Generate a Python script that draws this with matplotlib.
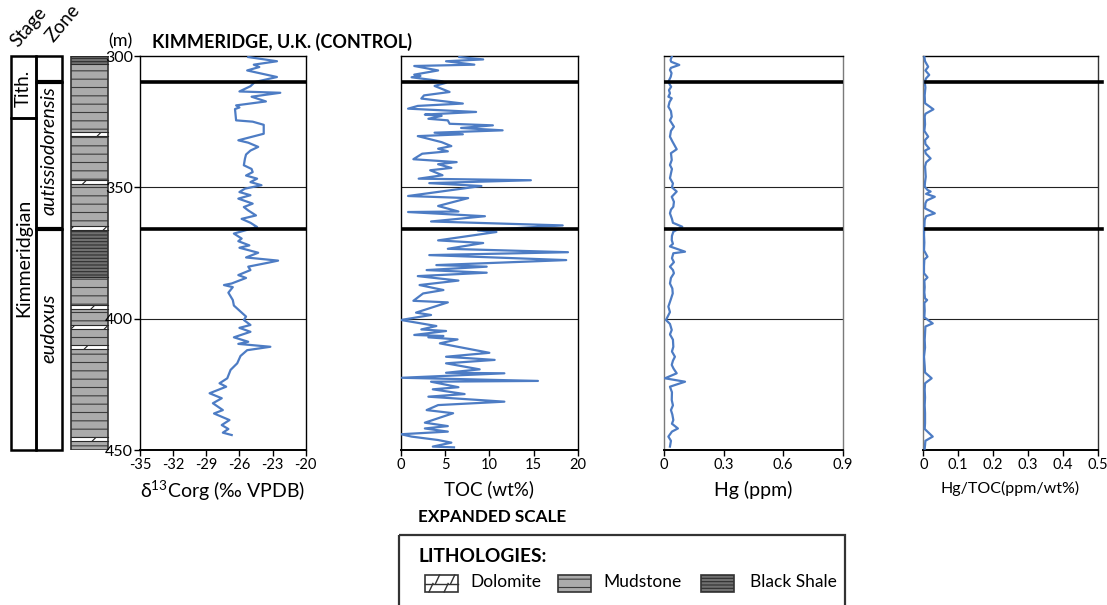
import matplotlib
matplotlib.use('Agg')
import matplotlib.pyplot as plt
from matplotlib.patches import Rectangle
from matplotlib.lines import Line2D

# ---------------- data ----------------
d13c_depth = [300.4, 302.0, 303.3, 304.2, 305.5, 308.0, 309.9, 311.5, 313.5, 314.0, 315.5, 317.3,
              318.8, 319.6, 320.2, 324.5, 325.0, 326.2, 329.6, 332.1, 333.0, 334.6, 336.0, 337.5,
              339.1, 341.6, 343.0, 344.2, 345.5, 346.7, 348.0, 349.2, 350.5, 351.8, 353.0, 354.3,
              356.2, 357.5, 358.8, 360.7, 362.0, 363.5, 365.1, 367.6, 369.5, 370.5, 372.1, 373.0,
              374.9, 376.7, 377.9, 378.7, 380.2, 381.5, 383.4, 384.5, 386.6, 387.2, 388.0, 390.1,
              392.9, 395.0, 397.3, 399.2, 400.5, 402.4, 403.5, 405.0, 407.1, 408.8, 409.6, 410.7,
              412.0, 414.2, 417.0, 419.5, 422.7, 424.6, 425.9, 428.4, 430.3, 432.2, 434.8, 436.1,
              438.6, 440.5, 442.0, 443.4, 444.3]
d13c_value = [-25.2, -22.6, -24.7, -24.2, -25.3, -22.6, -24.6, -25.0, -26.0, -22.3, -24.9, -23.6,
              -26.3, -26.0, -26.4, -26.3, -24.8, -23.8, -23.8, -26.1, -25.2, -24.3, -25.0, -25.4,
              -25.5, -25.6, -24.9, -24.8, -25.4, -24.4, -25.0, -24.0, -25.5, -26.0, -25.0, -26.1,
              -24.8, -25.6, -25.2, -24.5, -25.8, -25.0, -24.4, -26.5, -25.8, -26.1, -25.1, -26.0,
              -24.3, -25.4, -22.5, -23.4, -25.2, -25.0, -26.1, -25.4, -26.7, -27.4, -26.6, -27.0,
              -26.6, -26.5, -25.9, -25.4, -25.6, -25.0, -26.0, -25.0, -26.5, -25.2, -26.1, -23.2,
              -25.3, -25.9, -26.2, -26.8, -27.1, -27.8, -27.2, -28.7, -27.6, -28.4, -27.5, -28.3,
              -26.9, -27.6, -27.0, -27.5, -26.7]

toc_depth = [300.4, 301.3, 302.0, 303.3, 303.8, 305.5, 307.1, 307.6, 308.1, 309.6, 310.2, 311.4,
             313.7, 315.0, 316.2, 318.1, 319.0, 320.05, 321.3, 322.3, 322.8, 323.9, 324.5, 325.8,
             326.4, 327.4, 328.3, 329.2, 329.8, 330.5, 332.8, 334.3, 335.3, 336.3, 337.2, 339.3,
             340.4, 341.2, 342.6, 343.5, 345.4, 346.7, 347.3, 348.4, 349.5, 353.3, 354.1, 357.1,
             359.2, 359.4, 361.0, 363.0, 364.5, 366.4, 367.0, 370.2, 371.2, 373.4, 374.7, 375.8,
             377.7, 379.6, 380.2, 381.5, 382.5, 383.8, 385.5, 387.2, 389.1, 390.4, 393.2, 393.8,
             397.7, 398.6, 400.5, 402.8, 404.1, 404.7, 406.2, 406.6, 407.1, 407.9, 409.4, 413.0,
             414.5, 415.7, 417.0, 419.3, 420.6, 420.8, 422.5, 423.7, 424.0, 426.1, 426.9, 428.7,
             429.7, 431.6, 432.9, 434.8, 436.0, 439.6, 440.9, 441.8, 443.0, 444.0, 444.9, 446.2,
             447.2, 448.7, 449.0]
toc_value = [6.6, 9.3, 5.1, 8.3, 1.5, 4.2, 1.5, 2.2, 1.2, 4.6, 5.1, 3.8,
             5.5, 2.6, 2.3, 7.0, 1.9, 0.8, 8.5, 2.7, 4.6, 3.1, 5.3, 5.5,
             10.4, 6.8, 11.5, 3.8, 7.0, 1.9, 4.6, 5.7, 4.2, 5.3, 2.4, 1.4,
             6.3, 4.2, 5.7, 3.3, 4.7, 2.0, 14.7, 3.2, 9.1, 0.8, 7.6, 4.2,
             6.5, 0.8, 9.5, 3.4, 18.3, 8.7, 10.8, 4.2, 9.3, 5.3, 18.9, 3.2,
             18.7, 4.0, 9.7, 2.9, 9.7, 1.9, 6.5, 2.1, 4.8, 2.5, 1.4, 5.3,
             1.7, 3.4, 0.0, 4.0, 2.3, 5.1, 1.5, 4.8, 3.1, 6.4, 4.4, 10.0,
             5.1, 10.6, 5.1, 8.9, 5.1, 11.7, 0.1, 15.5, 3.4, 6.5, 3.6, 7.2,
             3.1, 11.7, 4.2, 2.9, 5.9, 2.7, 5.3, 2.7, 5.3, 0.0, 1.2, 4.2,
             5.7, 3.6, 6.0]

hg_depth = [300.3, 301.5, 302.2, 303.4, 304.5, 305.3, 306.5, 307.9, 309.8, 311.0, 311.7, 313.0,
            314.2, 315.5, 316.1, 317.5, 319.3, 321.0, 323.1, 324.5, 326.9, 328.5, 330.7, 332.5,
            335.5, 337.0, 339.6, 341.5, 343.0, 344.7, 346.5, 348.5, 350.0, 351.6, 353.6, 355.5,
            357.4, 358.5, 359.9, 362.0, 363.5, 365.0, 366.9, 368.5, 370.1, 371.5, 372.5, 374.5,
            375.1, 377.0, 378.5, 380.2, 381.5, 382.7, 384.5, 386.6, 388.5, 390.4, 392.5, 395.4,
            397.5, 400.5, 402.0, 404.3, 406.0, 408.0, 410.7, 412.5, 414.5, 416.0, 417.6, 419.0,
            420.8, 422.7, 424.0, 425.9, 428.0, 431.0, 433.0, 434.8, 436.5, 438.6, 440.0, 441.8,
            443.0, 444.9, 446.5, 448.7]
hg_value = [0.039, 0.033, 0.036, 0.077, 0.035, 0.030, 0.038, 0.034, 0.022, 0.030, 0.036, 0.025,
            0.030, 0.022, 0.039, 0.028, 0.022, 0.035, 0.039, 0.030, 0.050, 0.035, 0.030, 0.042,
            0.064, 0.035, 0.039, 0.030, 0.040, 0.035, 0.030, 0.045, 0.040, 0.064, 0.039, 0.050,
            0.047, 0.035, 0.030, 0.040, 0.045, 0.092, 0.047, 0.040, 0.039, 0.045, 0.030, 0.106,
            0.047, 0.040, 0.050, 0.030, 0.045, 0.050, 0.035, 0.030, 0.042, 0.044, 0.035, 0.022,
            0.030, 0.010, 0.030, 0.039, 0.030, 0.045, 0.047, 0.040, 0.055, 0.045, 0.039, 0.048,
            0.064, 0.005, 0.106, 0.030, 0.040, 0.039, 0.045, 0.035, 0.042, 0.047, 0.040, 0.070,
            0.040, 0.022, 0.035, 0.030]

hgtoc_depth = [300.3, 302.0, 304.1, 305.5, 307.2, 308.5, 309.8, 312.0, 315.0, 318.0, 320.3, 322.0,
               323.1, 326.0, 328.5, 330.7, 332.0, 333.5, 335.2, 336.0, 337.1, 339.0, 340.5, 342.1,
               344.0, 346.0, 348.0, 349.7, 351.0, 351.6, 352.5, 353.6, 355.0, 356.1, 358.0, 359.9,
               361.0, 362.4, 365.0, 368.0, 371.0, 374.0, 376.4, 377.5, 380.0, 382.7, 384.3, 385.5,
               388.0, 390.0, 392.3, 392.9, 394.0, 397.0, 399.5, 401.8, 403.0, 405.6, 408.0, 411.0,
               414.5, 418.0, 420.5, 422.7, 424.6, 427.0, 430.0, 433.0, 436.0, 439.8, 442.0, 444.9,
               446.5, 448.1, 449.5]
hgtoc_value = [0.003, 0.005, 0.014, 0.006, 0.017, 0.008, 0.004, 0.006, 0.004, 0.005, 0.029, 0.006,
               0.004, 0.005, 0.003, 0.014, 0.005, 0.006, 0.017, 0.005, 0.007, 0.021, 0.008, 0.005,
               0.006, 0.007, 0.005, 0.004, 0.012, 0.021, 0.008, 0.033, 0.010, 0.006, 0.005, 0.033,
               0.008, 0.004, 0.003, 0.002, 0.003, 0.002, 0.012, 0.003, 0.002, 0.002, 0.012, 0.003,
               0.004, 0.003, 0.005, 0.011, 0.003, 0.004, 0.003, 0.027, 0.006, 0.005, 0.004, 0.005,
               0.002, 0.004, 0.005, 0.024, 0.005, 0.004, 0.005, 0.004, 0.005, 0.005, 0.004, 0.027,
               0.006, 0.005, 0.004]

depth_ticks = [300, 350, 400, 450]
d13c_ticks = [-35, -32, -29, -26, -23, -20]
toc_ticks = [0, 5, 10, 15, 20]
hg_ticks = [0, 0.3, 0.6, 0.9]
hg_ticklabels = ['0', '0.3', '0.6', '0.9']
hgtoc_ticks = [0, 0.1, 0.2, 0.3, 0.4, 0.5]
hgtoc_ticklabels = ['0', '0.1', '0.2', '0.3', '0.4', '0.5']

zone_boundaries = [310, 366]      # thick lines
grid_depths = [350, 400]          # thin lines

stage_names = ['Tith.', 'Kimmeridgian']
stage_bounds = [300, 323.5, 450]
zone_names = ['', 'autissiodorensis', 'eudoxus']
zone_bounds = [300, 310, 366, 450]

litho_top = [300, 303, 329.0, 330.5, 347.2, 348.7, 364.7, 366.2, 384.0, 394.9, 396.4,
             402.4, 403.9, 409.9, 411.4, 445.0, 446.5]
litho_type = ['Black Shale', 'Mudstone', 'Dolomite', 'Mudstone', 'Dolomite', 'Mudstone',
              'Dolomite', 'Black Shale', 'Mudstone', 'Dolomite', 'Mudstone', 'Dolomite',
              'Mudstone', 'Dolomite', 'Mudstone', 'Dolomite', 'Mudstone']
litho_base = litho_top[1:] + [450]
legend_names = ['Dolomite', 'Mudstone', 'Black Shale']

# ---------------- style ----------------
plt.rcParams['font.family'] = ['Lato', 'DejaVu Sans']
plt.rcParams['mathtext.default'] = 'regular'
plt.rcParams['hatch.linewidth'] = 0.8
plt.rcParams['axes.unicode_minus'] = False

LINE = '#4d7cc4'
LSTYLE = {'Mudstone': dict(facecolor='#ababab', hatch='--', edgecolor='#3c3c3c'),
          'Black Shale': dict(facecolor='#707070', hatch='-----', edgecolor='#2e2e2e'),
          'Dolomite': dict(facecolor='white', hatch='/', edgecolor='#222222')}

W, H = 1107, 605
fig = plt.figure(figsize=(W / 100, H / 100), dpi=100)

def px_axes(x0, y0, x1, y1, **kw):
    return fig.add_axes([x0 / W, 1 - y1 / H, (x1 - x0) / W, (y1 - y0) / H], **kw)

TOP, BOT = 56, 450

# overlay axes in pixel coordinates
ov = px_axes(0, 0, W, H, zorder=-5)
ov.set_xlim(0, W); ov.set_ylim(H, 0); ov.axis('off')

ov.text(152, 42, 'KIMMERIDGE, U.K. (CONTROL)', fontsize=13, fontweight='bold', va='center', ha='left')
ov.text(418, 517, 'EXPANDED SCALE', fontsize=12.3, fontweight='bold', va='center', ha='left')
ov.text(120, 41, '(m)', fontsize=13, va='center', ha='center')
ov.text(29, 27, 'Stage', fontsize=13.5, rotation=50, va='center', ha='center')
ov.text(63, 23, 'Zone', fontsize=13.5, rotation=50, va='center', ha='center')

# legend box
ov.add_patch(Rectangle((399, 535), 446, 90, fill=False, edgecolor='#333333', lw=1.6, clip_on=False))
ov.text(418, 556, 'LITHOLOGIES:', fontsize=13.8, fontweight='bold', va='center', ha='left')
sym_x = [425, 558, 701]
txt_x = [470, 603, 750]
for name, sx, tx in zip(legend_names, sym_x, txt_x):
    st = LSTYLE[name]
    if name == 'Dolomite':
        ov.add_patch(Rectangle((sx, 575), 33, 17, facecolor='white', edgecolor='none'))
        ov.plot([sx, sx + 33], [583.5, 583.5], color='#333333', lw=1)
        for fx, y0 in [(0.32, 583.5), (0.78, 583.5), (0.12, 592), (0.58, 592)]:
            ov.plot([sx + 33 * fx, sx + 33 * fx + 4], [y0, y0 - 8.5], color='#333333', lw=1)
    else:
        ov.add_patch(Rectangle((sx, 575), 33, 17, facecolor=st['facecolor'], hatch=st['hatch'],
                               edgecolor=st['edgecolor'], lw=0))
    ov.add_patch(Rectangle((sx, 575), 33, 17, fill=False, edgecolor='#333333', lw=1.2))
    ov.text(tx, 582, name, fontsize=12.5, va='center', ha='left')

# ---------------- stratigraphic column ----------------
axs = px_axes(0, TOP, 140, BOT)
axs.set_xlim(0, 140); axs.set_ylim(450, 300); axs.axis('off')
SX0, SX1, ZX1 = 10.7, 35.7, 62.3
for i, name in enumerate(stage_names):
    axs.add_patch(Rectangle((SX0, stage_bounds[i]), SX1 - SX0, stage_bounds[i + 1] - stage_bounds[i],
                            fill=False, edgecolor='black', lw=1.8, clip_on=False))
for i, name in enumerate(zone_names):
    axs.add_patch(Rectangle((SX1, zone_bounds[i]), ZX1 - SX1, zone_bounds[i + 1] - zone_bounds[i],
                            fill=False, edgecolor='black', lw=1.8, clip_on=False))
for zb in zone_boundaries:
    axs.plot([SX1, ZX1], [zb, zb], color='black', lw=3, solid_capstyle='butt')
axs.text((SX0 + SX1) / 2 + 0.5, 312.5, stage_names[0], rotation=90, fontsize=13.5, ha='center', va='center')
axs.text((SX0 + SX1) / 2 + 0.5, 377, stage_names[1], rotation=90, fontsize=14, ha='center', va='center')
axs.text((SX1 + ZX1) / 2, 336, zone_names[1], rotation=90, fontsize=14, style='italic',
         ha='center', va='center')
axs.text((SX1 + ZX1) / 2, 403.5, zone_names[2], rotation=90, fontsize=14.5, style='italic',
         ha='center', va='center')

LX0, LX1 = 71, 108.3
for t, b, ty in zip(litho_top, litho_base, litho_type):
    st = LSTYLE[ty]
    axs.add_patch(Rectangle((LX0, t), LX1 - LX0, b - t, facecolor=st['facecolor'], hatch=st['hatch'],
                            edgecolor=st['edgecolor'], lw=0))
    axs.plot([LX0, LX1], [t, t], color='#2a2a2a', lw=0.8)
axs.add_patch(Rectangle((LX0, 300), LX1 - LX0, 150, fill=False, edgecolor='#333333', lw=1.2))

# ---------------- data panels ----------------
panels = [
    (140, 305.7, d13c_depth, d13c_value, (-35, -20), d13c_ticks, [str(t) for t in d13c_ticks],
     'δ$^{13}$Corg (‰ VPDB)', 14),
    (401, 577.7, toc_depth, toc_value, (0, 20), toc_ticks, [str(t) for t in toc_ticks],
     'TOC (wt%)', 13.5),
    (664, 842.7, hg_depth, hg_value, (0, 0.9), hg_ticks, hg_ticklabels, 'Hg (ppm)', 14),
    (923.3, 1097.7, hgtoc_depth, hgtoc_value, (0, 0.5), hgtoc_ticks, hgtoc_ticklabels,
     'Hg/TOC(ppm/wt%)', 11.5),
]
for k, (x0, x1, dep, val, xl, ticks, tl, lab, lfs) in enumerate(panels):
    ax = px_axes(x0, TOP, x1, BOT)
    ax.plot(val, dep, color=LINE, lw=1.6, zorder=3)
    ax.set_xlim(*xl); ax.set_ylim(450, 300)
    ax.set_xticks(ticks); ax.set_xticklabels(tl, fontsize=10.5)
    ax.tick_params(axis='x', direction='out', length=4, width=1, pad=2)
    for g in grid_depths:
        ax.axhline(g, color='#222222', lw=0.8, zorder=2)
    for zb in zone_boundaries:
        if k == 3:
            ax.add_line(Line2D([0.017, 1.025], [zb, zb], transform=ax.get_yaxis_transform(),
                               color='black', lw=2.6, zorder=4, clip_on=False))
        else:
            ax.axhline(zb, color='black', lw=2.6, zorder=4)
    if k == 0:
        ax.set_yticks(depth_ticks)
        ax.set_yticklabels([str(t) for t in depth_ticks], fontsize=11.5)
        ax.tick_params(axis='y', direction='out', length=4, width=1, pad=1)
    else:
        ax.set_yticks([])
    for sp in ax.spines.values():
        sp.set_linewidth(1.0)
        sp.set_color('black')
    ax.spines['bottom'].set_linewidth(1.4)
    if k >= 2:
        ax.spines['left'].set_color('#7a7a7a')
        ax.spines['right'].set_color('#7a7a7a' if k == 2 else '#333333')
    ax.set_xlabel(lab, fontsize=lfs, labelpad=6 if k else 5)

fig.savefig('out.png', dpi=100)
